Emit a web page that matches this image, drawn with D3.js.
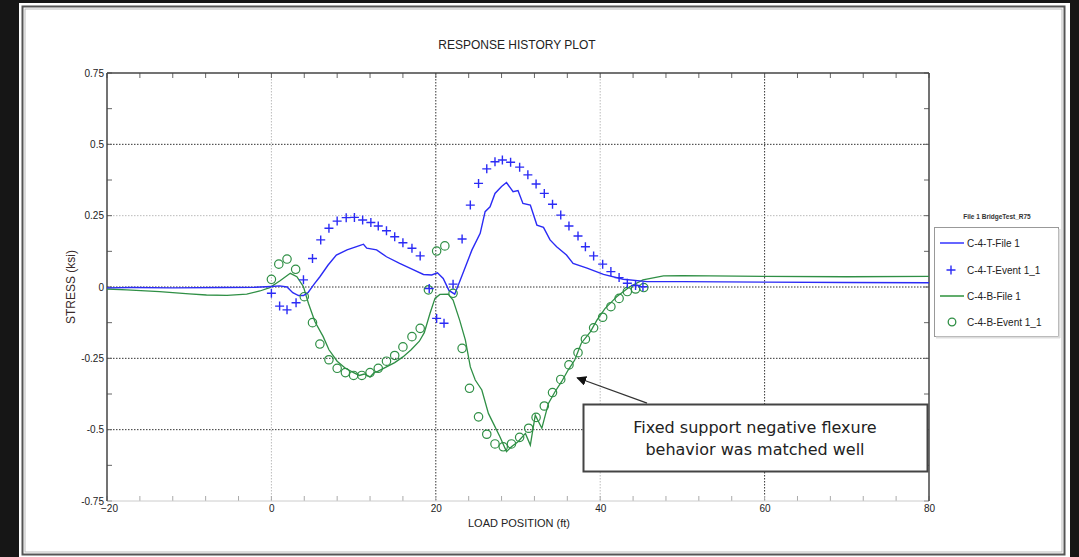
<!DOCTYPE html>
<html>
<head>
<meta charset="utf-8">
<script src="https://cdn.jsdelivr.net/npm/d3@7"></script>
<style>
  body { margin: 0; background: #161616; }
  svg { display: block; }
</style>
</head>
<body>
<div id="chart"></div>
<script>
// chart data
var seriesNames = ["C-4-T-File 1", "C-4-T-Event 1_1", "C-4-B-File 1", "C-4-B-Event 1_1"];
var xTicks = [-20, 0, 20, 40, 60, 80];
var yTicks = [-0.75, -0.5, -0.25, 0, 0.25, 0.5, 0.75];
var yTickLabels = ["-0.75", "-0.5", "-0.25", "0", "0.25", "0.5", "0.75"];

// C-4-T-File 1 (blue line)
var topFile = [[-20,-0.003],[-17,-0.002],[-12,-0.003],[-6,-0.002],[-2,-0.001],[0,0.002],[1,0.004],[1.9,0.0],
  [2.6,-0.02],[3.3,-0.03],[3.9,-0.03],[4.45,-0.02],[5.2,0.01],[5.9,0.036],[6.9,0.077],[7.9,0.112],[9.2,0.13],
  [10.8,0.146],[11.2,0.15],[11.6,0.136],[12.8,0.13],[14,0.106],[15.6,0.083],[17.3,0.06],[18.5,0.044],[19.5,0.042],
  [20.2,0.05],[20.9,0.03],[21.6,-0.012],[22.3,-0.025],[23.3,0.048],[24.4,0.13],[25.4,0.188],[26,0.264],[26.6,0.281],
  [27.2,0.328],[28,0.352],[28.6,0.366],[29.4,0.334],[30,0.338],[30.6,0.293],[31.5,0.287],[32.3,0.217],[33.1,0.209],
  [33.9,0.165],[34.7,0.141],[35.9,0.112],[36.7,0.083],[38.4,0.066],[40.4,0.044],[42.8,0.027],[45.7,0.019],[50,0.019],
  [60,0.017],[70,0.016],[80,0.015]];

// C-4-T-Event 1_1 (blue crosses)
var topEvent = [[0,-0.022],[1,-0.067],[1.9,-0.08],[3,-0.055],[3.9,0.025],[5,0.10],[6,0.165],[7,0.206],[8,0.231],
  [9.1,0.243],[10.1,0.244],[11.1,0.235],[12.1,0.226],[13,0.214],[14,0.197],[15,0.176],[16,0.155],[17.1,0.136],
  [18.1,0.109],[19.2,-0.005],[20.1,-0.11],[21,-0.127],[22.1,0.01],[23.2,0.168],[24.2,0.287],[25.2,0.363],[26.2,0.414],
  [27.2,0.439],[28.1,0.445],[29.1,0.437],[30.2,0.42],[31.2,0.393],[32.2,0.361],[33.2,0.328],[34.2,0.29],[35.2,0.252],
  [36.2,0.214],[37.3,0.179],[38.2,0.141],[39.2,0.109],[40.3,0.08],[41.3,0.054],[42.3,0.033],[43.3,0.013],[44.3,0.005],
  [45.2,0.001]];

// C-4-B-File 1 (green line)
var botFile = [[-20,-0.007],[-17.6,-0.01],[-13.6,-0.016],[-10,-0.024],[-7.9,-0.028],[-5.4,-0.029],[-3,-0.025],
  [-1.4,-0.014],[-0.2,-0.002],[1.05,0.022],[2.3,0.048],[3.1,0.036],[3.9,0.001],[4.5,-0.057],[5.3,-0.122],[6.3,-0.174],
  [7,-0.22],[8,-0.26],[9,-0.285],[10,-0.30],[10.7,-0.31],[11.3,-0.305],[12,-0.315],[12.5,-0.30],[13,-0.295],[14,-0.28],
  [15,-0.265],[16,-0.245],[17,-0.22],[18,-0.19],[18.6,-0.16],[19.3,-0.092],[19.9,-0.04],[20.5,-0.026],[21.5,-0.025],
  [22.1,-0.046],[22.9,-0.116],[23.6,-0.186],[24.2,-0.28],[24.8,-0.326],[25.6,-0.361],[26.4,-0.443],[27,-0.478],
  [27.8,-0.525],[28.6,-0.577],[29.2,-0.56],[30,-0.542],[30.9,-0.513],[31.5,-0.554],[32.1,-0.449],[32.9,-0.495],
  [33.7,-0.408],[34.5,-0.367],[35.3,-0.332],[36.1,-0.291],[36.9,-0.256],[37.7,-0.197],[38.8,-0.157],[39.6,-0.116],
  [40.6,-0.075],[41.6,-0.046],[42,-0.034],[43.6,0.001],[45.2,0.025],[47.7,0.039],[50,0.04],[60,0.037],[70,0.036],[80,0.037]];

// C-4-B-Event 1_1 (green circles)
var botEvent = [[0,0.027],[0.9,0.08],[1.9,0.098],[2.95,0.062],[4,-0.034],[5,-0.125],[5.9,-0.2],[7,-0.255],[8,-0.285],
  [9,-0.30],[10,-0.31],[11,-0.31],[12,-0.30],[13,-0.285],[14,-0.26],[15,-0.24],[16,-0.21],[17.1,-0.174],[18.1,-0.145],
  [19.1,-0.01],[20.1,0.126],[21.1,0.144],[22.1,-0.022],[23.2,-0.215],[24.1,-0.355],[25.2,-0.455],[26.2,-0.516],
  [27.2,-0.55],[28.2,-0.56],[29.2,-0.55],[30.2,-0.527],[31.3,-0.495],[32.2,-0.457],[33.2,-0.417],[34.2,-0.37],
  [35.2,-0.324],[36.2,-0.273],[37.3,-0.23],[38.2,-0.183],[39.2,-0.143],[40.3,-0.106],[41.3,-0.069],[42.3,-0.04],
  [43.3,-0.016],[44.3,-0.007],[45.3,-0.002]];

var W = 1079, H = 557;
var blue = "#2b2bf5", green = "#2f8f45";

var svg = d3.select("#chart").append("svg")
  .attr("width", W).attr("height", H);

// dark background + white sheet with double frame
svg.append("rect").attr("width", W).attr("height", H).attr("fill", "#161616");
svg.append("rect").attr("x", 19).attr("y", 3).attr("width", 1051).attr("height", 554).attr("fill", "#fff");
svg.append("rect").attr("x", 22.5).attr("y", 6.5).attr("width", 1042).attr("height", 548)
  .attr("fill", "none").attr("stroke", "#555").attr("stroke-width", 2);
svg.append("rect").attr("x", 25).attr("y", 9).attr("width", 1037).attr("height", 543)
  .attr("fill", "none").attr("stroke", "#bbb").attr("stroke-width", 1);

var x = d3.scaleLinear().domain([-20, 80]).range([107, 929]);
var y = d3.scaleLinear().domain([-0.75, 0.75]).range([501, 73]);

// grid
var darkX = [20, 60], darkY = [0, 0.5, -0.25, -0.5];
svg.append("g").selectAll("line").data([0, 20, 40, 60]).enter().append("line")
  .attr("x1", function(d) { return x(d); }).attr("x2", function(d) { return x(d); })
  .attr("y1", y(0.75)).attr("y2", y(-0.75))
  .attr("stroke", function(d) { return darkX.indexOf(d) >= 0 ? "#333" : "#bbb"; })
  .attr("stroke-dasharray", "1.5,1.5");
svg.append("g").selectAll("line").data([-0.5, -0.25, 0, 0.25, 0.5]).enter().append("line")
  .attr("x1", x(-20)).attr("x2", x(80))
  .attr("y1", function(d) { return y(d); }).attr("y2", function(d) { return y(d); })
  .attr("stroke", function(d) { return darkY.indexOf(d) >= 0 ? "#333" : "#bbb"; })
  .attr("stroke-dasharray", "1.5,1.5");

// minor ticks (inward)
var minorX = d3.range(-20, 81, 4), minorY = d3.range(-0.75, 0.76, 0.125);
var ticks = svg.append("g").attr("stroke", "#666");
minorX.forEach(function(v) {
  ticks.append("line").attr("x1", x(v)).attr("x2", x(v)).attr("y1", y(-0.75)).attr("y2", y(-0.75) - 5).attr("stroke", "#aaa");
  ticks.append("line").attr("x1", x(v)).attr("x2", x(v)).attr("y1", y(0.75)).attr("y2", y(0.75) + 5);
});
minorY.forEach(function(v) {
  ticks.append("line").attr("x1", x(-20)).attr("x2", x(-20) + 5).attr("y1", y(v)).attr("y2", y(v));
  ticks.append("line").attr("x1", x(80)).attr("x2", x(80) - 5).attr("y1", y(v)).attr("y2", y(v));
});

// plot frame
svg.append("line").attr("x1", x(-20)).attr("x2", x(80)).attr("y1", y(-0.75)).attr("y2", y(-0.75)).attr("stroke", "#ccc");
svg.append("line").attr("x1", x(-20)).attr("x2", x(80)).attr("y1", y(0.75)).attr("y2", y(0.75)).attr("stroke", "#444").attr("stroke-width", 1.5);
svg.append("line").attr("x1", x(-20)).attr("x2", x(-20)).attr("y1", y(0.75)).attr("y2", y(-0.75)).attr("stroke", "#444").attr("stroke-width", 1.5);
svg.append("line").attr("x1", x(80)).attr("x2", x(80)).attr("y1", y(0.75)).attr("y2", y(-0.75)).attr("stroke", "#444").attr("stroke-width", 1.5);

// axes labels
var xAxis = d3.axisBottom(x).tickValues(xTicks).tickSize(0).tickPadding(4);
var gx = svg.append("g").attr("transform", "translate(0," + y(-0.75) + ")").call(xAxis);
var yAxis = d3.axisLeft(y).tickValues(yTicks).tickSize(0).tickPadding(3)
  .tickFormat(function(d, i) { return yTickLabels[i]; });
var gy = svg.append("g").attr("transform", "translate(" + x(-20) + ",0)").call(yAxis);
[gx, gy].forEach(function(g) {
  g.select(".domain").remove();
  g.selectAll("text").attr("font-family", "Liberation Sans, Arial, sans-serif")
    .attr("font-size", "10px").attr("fill", "#222");
});
gx.selectAll("text").filter(function(d) { return d === -20; }).attr("dx", "2px");

// titles
svg.append("text").attr("x", 517).attr("y", 49).attr("text-anchor", "middle")
  .attr("font-family", "Liberation Sans, Arial, sans-serif").attr("font-size", "12px").attr("fill", "#222")
  .text("RESPONSE HISTORY PLOT");
svg.append("text").attr("x", 519).attr("y", 527).attr("text-anchor", "middle")
  .attr("font-family", "Liberation Sans, Arial, sans-serif").attr("font-size", "11px").attr("fill", "#222")
  .text("LOAD POSITION (ft)");
svg.append("text").attr("transform", "translate(75," + y(0) + ") rotate(-90)").attr("text-anchor", "middle")
  .attr("font-family", "Liberation Sans, Arial, sans-serif").attr("font-size", "12px").attr("fill", "#3a2a2a")
  .text("STRESS (ksi)");

// series
var line = d3.line()
  .x(function(d) { return x(d[0]); })
  .y(function(d) { return y(d[1]); });

svg.append("path").datum(botFile).attr("d", line)
  .attr("fill", "none").attr("stroke", green).attr("stroke-width", 1.3);
svg.append("path").datum(topFile).attr("d", line)
  .attr("fill", "none").attr("stroke", blue).attr("stroke-width", 1.4);

svg.append("g").selectAll("circle").data(botEvent).enter().append("circle")
  .attr("cx", function(d) { return x(d[0]); })
  .attr("cy", function(d) { return y(d[1]); })
  .attr("r", 4.2).attr("fill", "none").attr("stroke", green).attr("stroke-width", 1.2);

svg.append("g").selectAll("path").data(topEvent).enter().append("path")
  .attr("transform", function(d) { return "translate(" + x(d[0]) + "," + y(d[1]) + ")"; })
  .attr("d", "M-4.5,0H4.5M0,-4.5V4.5")
  .attr("stroke", blue).attr("stroke-width", 1.4);

// legend
svg.append("text").attr("x", 997).attr("y", 219).attr("text-anchor", "middle")
  .attr("font-family", "Liberation Sans, Arial, sans-serif").attr("font-size", "6.5px")
  .attr("font-weight", "bold").attr("fill", "#333")
  .text("File 1  BridgeTest_R75");
svg.append("rect").attr("x", 934.5).attr("y", 227.5).attr("width", 124).attr("height", 109)
  .attr("fill", "#fff").attr("stroke", "#999");
svg.append("line").attr("x1", 1059.5).attr("x2", 1059.5).attr("y1", 229).attr("y2", 338).attr("stroke", "#ddd").attr("stroke-width", 2);
svg.append("line").attr("x1", 936).attr("x2", 1060).attr("y1", 337.5).attr("y2", 337.5).attr("stroke", "#ddd").attr("stroke-width", 2);

var legendY = [243, 270, 296, 322];
var leg = svg.append("g").selectAll("g").data(seriesNames).enter().append("g")
  .attr("transform", function(d, i) { return "translate(0," + legendY[i] + ")"; });
leg.append("text").attr("x", 967).attr("dy", "0.35em")
  .attr("font-family", "Liberation Sans, Arial, sans-serif").attr("font-size", "10px").attr("fill", "#222")
  .text(function(d) { return d; });
leg.filter(function(d, i) { return i === 0; }).append("line")
  .attr("x1", 940).attr("x2", 964).attr("stroke", "#6666ff").attr("stroke-width", 2);
leg.filter(function(d, i) { return i === 1; }).append("path")
  .attr("transform", "translate(951,0)").attr("d", "M-4.5,0H4.5M0,-4.5V4.5")
  .attr("stroke", blue).attr("stroke-width", 1.4);
leg.filter(function(d, i) { return i === 2; }).append("line")
  .attr("x1", 940).attr("x2", 964).attr("stroke", "#1d8a2d").attr("stroke-width", 1.4);
leg.filter(function(d, i) { return i === 3; }).append("circle")
  .attr("cx", 952).attr("r", 3.8).attr("fill", "none").attr("stroke", green).attr("stroke-width", 1.3);

// callout
var tail = [45.7, -0.407], tip = [37.2, -0.318];
svg.append("defs").append("marker").attr("id", "arrow")
  .attr("viewBox", "0 0 10 10").attr("refX", 9).attr("refY", 5)
  .attr("markerWidth", 10).attr("markerHeight", 10).attr("markerUnits", "userSpaceOnUse")
  .attr("orient", "auto")
  .append("path").attr("d", "M0,0L10,5L0,10z").attr("fill", "#111");
svg.append("line").attr("x1", x(tail[0])).attr("y1", y(tail[1]))
  .attr("x2", x(tip[0])).attr("y2", y(tip[1]))
  .attr("stroke", "#333").attr("stroke-width", 1.3).attr("marker-end", "url(#arrow)");

svg.append("rect").attr("x", 583.5).attr("y", 404.5).attr("width", 344).attr("height", 67)
  .attr("fill", "#fff").attr("stroke", "#444").attr("stroke-width", 2);
var note = svg.append("text").attr("text-anchor", "middle")
  .attr("font-family", "DejaVu Sans, Verdana, sans-serif").attr("font-size", "16px").attr("fill", "#222");
note.append("tspan").attr("x", 755).attr("y", 433).text("Fixed support negative flexure");
note.append("tspan").attr("x", 755).attr("y", 455).text("behavior was matched well");
</script>
</body>
</html>
